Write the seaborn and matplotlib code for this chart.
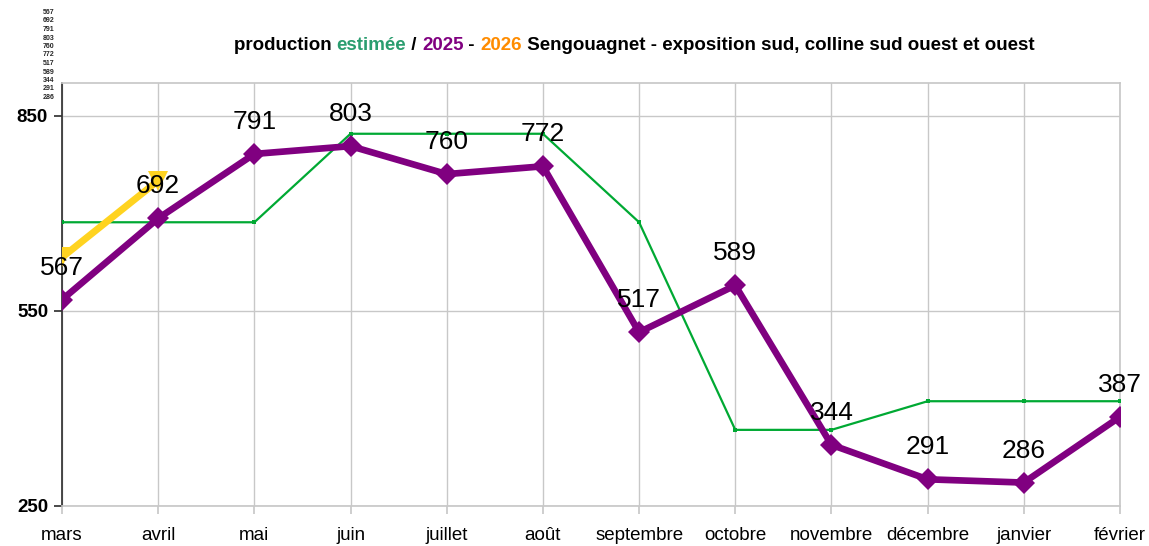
import numpy as np
import pandas as pd
import matplotlib
matplotlib.use("Agg")
import matplotlib.pyplot as plt
import seaborn as sns

# data
months = ["mars", "avril", "mai", "juin", "juillet", "août", "septembre",
          "octobre", "novembre", "décembre", "janvier", "février"]
prod_2025 = [567, 692, 791, 803, 760, 772, 517, 589, 344, 291, 286, 387]
estimee = [686, 686, 686, 822, 822, 822, 686, 367, 367, 411, 411, 411]
prod_2026 = [632, 750]
y_ticks = [250, 550, 850]

sns.set_theme(style="white")
plt.rcParams["font.family"] = ["Liberation Sans", "DejaVu Sans"]

x = np.arange(len(months))
df = pd.DataFrame({"x": x, "mois": months, "p2025": prod_2025, "estimee": estimee})
df26 = pd.DataFrame({"x": x[:len(prod_2026)], "p2026": prod_2026})

fig = plt.figure(figsize=(11.49, 5.46), dpi=100)
ax = fig.add_axes([62 / 1149, 40 / 546, (1120 - 62) / 1149, (506 - 83) / 546])

sns.lineplot(data=df, x="x", y="estimee", ax=ax, color="#00a933", lw=1.6,
             marker="s", markersize=3.5, markeredgewidth=0, sort=False, zorder=3)
sns.lineplot(data=df26, x="x", y="p2026", ax=ax, color="#ffd320", lw=5,
             marker="v", markersize=15, markeredgewidth=0, sort=False, zorder=4)
sns.lineplot(data=df, x="x", y="p2025", ax=ax, color="#800080", lw=4.8,
             marker="D", markersize=11, markeredgewidth=0, sort=False, zorder=5)

for xi, v in zip(x, prod_2025):
    ax.annotate(str(v), (xi, v), xytext=(0, 23), textcoords="offset points",
                ha="center", va="center", fontsize=19, color="black", zorder=6)

ax.set_xlim(0, len(months) - 1)
ax.set_ylim(250, 900)
ax.set_xticks(x)
ax.set_xticklabels(months, fontsize=13.5, color="black")
ax.set_yticks(y_ticks)
ax.set_yticklabels([str(t) for t in y_ticks], fontsize=13.5, fontweight="bold",
                   color="black")
ax.set_xlabel("")
ax.set_ylabel("")
ax.grid(True, color="#c8c8c8", lw=1)
for s in ["top", "right", "bottom"]:
    ax.spines[s].set_color("#c8c8c8")
ax.spines["left"].set_color("#333333")
ax.tick_params(axis="x", length=6, color="#c8c8c8", pad=9, bottom=True)
ax.tick_params(axis="y", length=6, color="#333333", pad=4, left=True)

# multicoloured title, drawn piece by piece then centred
pieces = [("production ", "black"), ("estimée", "#2a9d6f"), (" / ", "black"),
          ("2025", "#800080"), (" - ", "black"), ("2026", "#ff8c00"),
          (" Sengouagnet - exposition sud, colline sud ouest et ouest", "black")]
fig.canvas.draw()
renderer = fig.canvas.get_renderer()
texts = []
xpos = 0
for s, c in pieces:
    t = fig.text(xpos, 1 - 45 / 546, s, color=c, fontsize=13.5, fontweight="bold",
                 ha="left", va="center")
    w = t.get_window_extent(renderer).width / fig.bbox.width
    texts.append((t, xpos))
    xpos += w
start = 634 / 1149 - xpos / 2
for t, off in texts:
    t.set_x(start + off)

# tiny value list in the top-left corner
fig.text(43 / 1149, 1 - 9 / 546, "\n".join(str(v) for v in prod_2025[:11]),
         fontsize=5, fontweight="bold", ha="left", va="top", linespacing=1.3)

fig.savefig("out.png", dpi=100)
